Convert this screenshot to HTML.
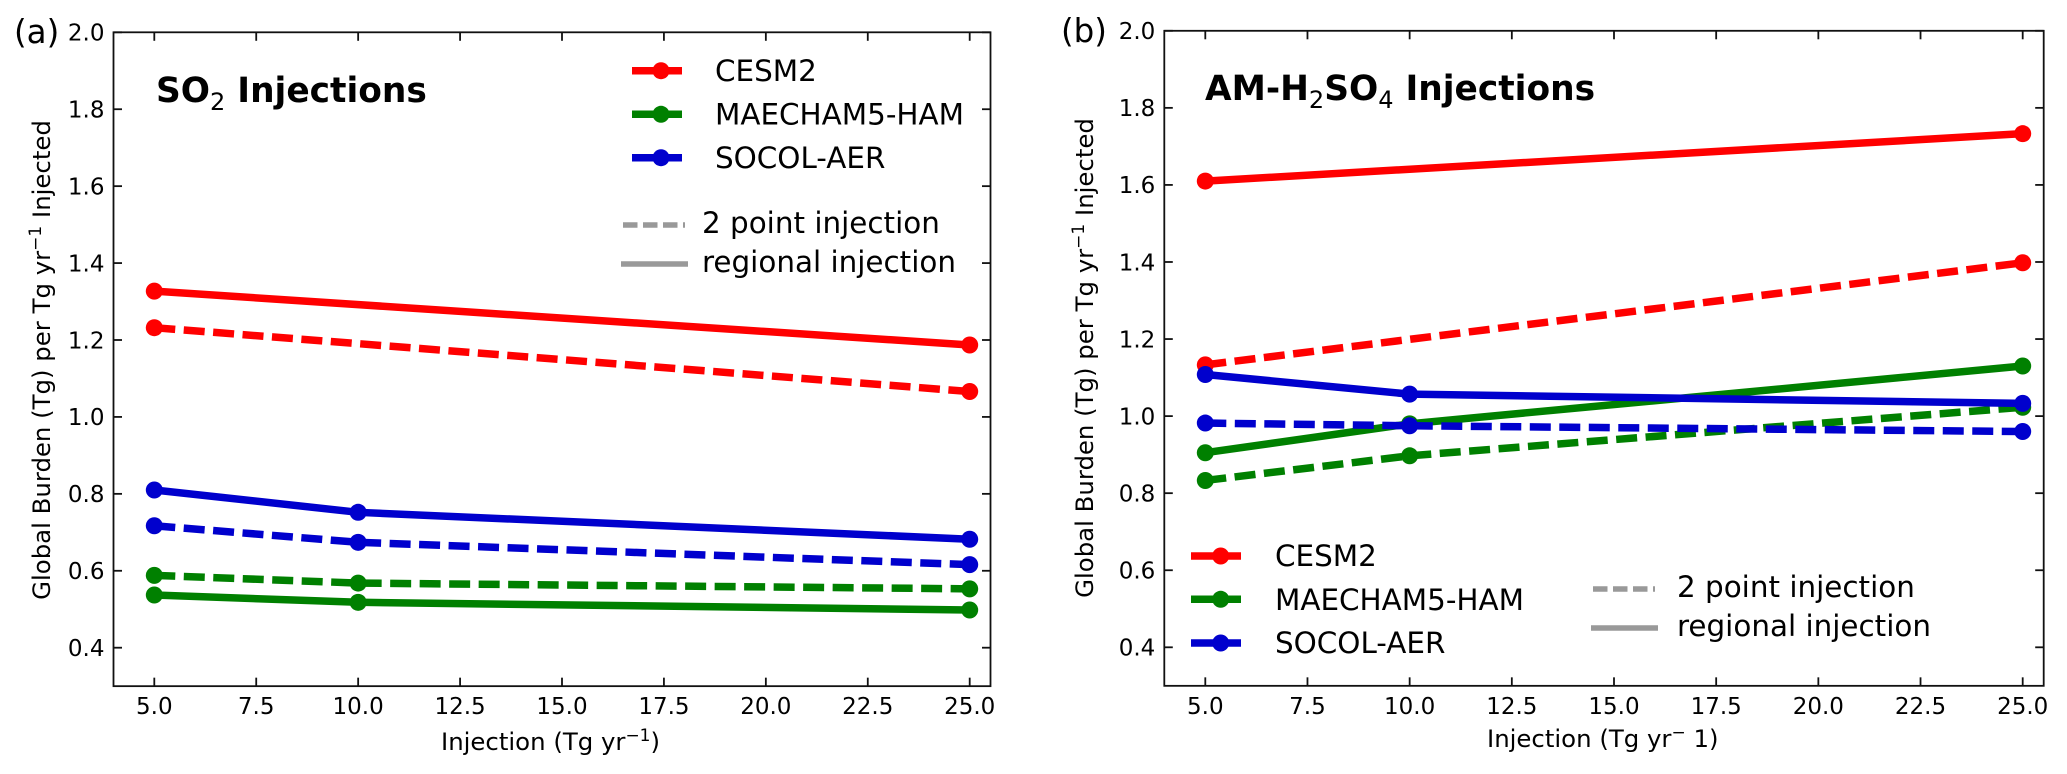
<!DOCTYPE html>
<html lang="en">
<head>
<meta charset="utf-8">
<title>Global burden per Tg injected</title>
<style>
html,body{margin:0;padding:0;background:#fff;width:2067px;height:774px;overflow:hidden}
svg{display:block}
text{font-family:"DejaVu Sans",sans-serif;fill:#000}
.tick{font-size:23px}
.axis-label{font-size:24.4px}
.legend{font-size:29.4px}
.legend2{font-size:29.4px}
.title{font-size:34.4px;font-weight:bold}
.panel{font-size:32.5px}
</style>
</head>
<body>
<svg id="fig" xmlns="http://www.w3.org/2000/svg" width="2067" height="774" viewBox="0 0 2067 774">
  <rect x="0" y="0" width="2067" height="774" fill="#fff"/>
  <g id="plots"></g>

  <text class="panel" x="14" y="43">(a)</text>
  <text class="panel" x="1061" y="42">(b)</text>

  <text class="title" x="156" y="102">SO<tspan font-size="24" font-weight="normal" dy="8">2</tspan><tspan dy="-8"> Injections</tspan></text>
  <text class="title" x="1205" y="100">AM-H<tspan font-size="24" font-weight="normal" dy="8">2</tspan><tspan dy="-8">SO</tspan><tspan font-size="24" font-weight="normal" dy="8">4</tspan><tspan dy="-8"> Injections</tspan></text>

  <text class="axis-label" transform="translate(50,360) rotate(-90)" text-anchor="middle">Global Burden (Tg) per Tg yr<tspan font-size="17" dy="-9">−1</tspan><tspan dy="9"> Injected</tspan></text>
  <text class="axis-label" transform="translate(1093,358) rotate(-90)" text-anchor="middle">Global Burden (Tg) per Tg yr<tspan font-size="17" dy="-9">−1</tspan><tspan dy="9"> Injected</tspan></text>
  <text class="axis-label" x="441" y="750">Injection (Tg yr<tspan font-size="17" dy="-9">−1</tspan><tspan dy="9">)</tspan></text>
  <text class="axis-label" x="1487" y="747">Injection (Tg yr<tspan font-size="17" dy="-9">−</tspan><tspan dy="9"> 1)</tspan></text>

  <g>
    <g><line x1="632" x2="682" y1="70.7" y2="70.7" stroke="#ff0000" stroke-width="7.5"/><circle cx="661" cy="70.7" r="8.5" fill="#ff0000"/><text class="legend" x="715" y="81">CESM2</text></g>
    <g><line x1="632" x2="682" y1="114.3" y2="114.3" stroke="#008000" stroke-width="7.5"/><circle cx="661" cy="114.3" r="8.5" fill="#008000"/><text class="legend" x="715" y="124.5">MAECHAM5-HAM</text></g>
    <g><line x1="632" x2="682" y1="157.7" y2="157.7" stroke="#0000cd" stroke-width="7.5"/><circle cx="661" cy="157.7" r="8.5" fill="#0000cd"/><text class="legend" x="715" y="168">SOCOL-AER</text></g>
  </g>
  <g>
    <g><line x1="623" x2="685" y1="225" y2="225" stroke="#999" stroke-width="5.5" stroke-dasharray="14.5 5.5"/><text class="legend2" x="702" y="233">2 point injection</text></g>
    <g><line x1="621" x2="688" y1="264" y2="264" stroke="#999" stroke-width="5.5"/><text class="legend2" x="702" y="272">regional injection</text></g>
  </g>

  <g>
    <g><line x1="1191" x2="1241" y1="556" y2="556" stroke="#ff0000" stroke-width="7.5"/><circle cx="1220.7" cy="556" r="8.5" fill="#ff0000"/><text class="legend" x="1275" y="566">CESM2</text></g>
    <g><line x1="1191" x2="1241" y1="599.3" y2="599.3" stroke="#008000" stroke-width="7.5"/><circle cx="1220.7" cy="599.3" r="8.5" fill="#008000"/><text class="legend" x="1275" y="610">MAECHAM5-HAM</text></g>
    <g><line x1="1191" x2="1241" y1="643" y2="643" stroke="#0000cd" stroke-width="7.5"/><circle cx="1220.7" cy="643" r="8.5" fill="#0000cd"/><text class="legend" x="1275" y="653">SOCOL-AER</text></g>
  </g>
  <g>
    <g><line x1="1593" x2="1655" y1="589" y2="589" stroke="#999" stroke-width="5.5" stroke-dasharray="14.5 5.5"/><text class="legend2" x="1677" y="597">2 point injection</text></g>
    <g><line x1="1591" x2="1658" y1="628" y2="628" stroke="#999" stroke-width="5.5"/><text class="legend2" x="1677" y="636">regional injection</text></g>
  </g>
</svg>
<script>
// Shared axis values
var xTicks = [5, 7.5, 10, 12.5, 15, 17.5, 20, 22.5, 25];
var yTicks = [0.4, 0.6, 0.8, 1.0, 1.2, 1.4, 1.6, 1.8, 2.0];
var xDomain = [4, 26];
var yDomain = [0.3, 2.0];

// Injection rates sampled by each model
var cesmX = [5, 25];
var otherX = [5, 10, 25];

// Panel (a): SO2 injections
var aCesmRegional = [1.327, 1.187];
var aCesmTwoPoint = [1.232, 1.066];
var aMaechamRegional = [0.537, 0.518, 0.498];
var aMaechamTwoPoint = [0.588, 0.568, 0.553];
var aSocolRegional = [0.810, 0.752, 0.682];
var aSocolTwoPoint = [0.717, 0.674, 0.616];

// Panel (b): AM-H2SO4 injections
var bCesmRegional = [1.610, 1.733];
var bCesmTwoPoint = [1.133, 1.398];
var bMaechamRegional = [0.905, 0.980, 1.130];
var bMaechamTwoPoint = [0.833, 0.897, 1.023];
var bSocolRegional = [1.108, 1.057, 1.033];
var bSocolTwoPoint = [0.982, 0.975, 0.960];

var SVGNS = 'http://www.w3.org/2000/svg';
var plots = document.getElementById('plots');

function make(tag, parent) {
  var el = document.createElementNS(SVGNS, tag);
  parent.appendChild(el);
  return el;
}

function drawPanel(box, id, seriesList) {
  // Axis scales: calibrated from tick 5 and 25, tick 0.4 and 2.0
  function sx(v) { return box.x5 + (v - 5) * (box.x25 - box.x5) / 20; }
  function sy(v) { return box.y04 + (v - 0.4) * (box.y20 - box.y04) / 1.6; }

  var group = make('g', plots);
  
  

  seriesList.forEach(function (s) {
    var pts = s.xs.map(function (x, i) { return sx(x).toFixed(2) + ',' + sy(s.ys[i]).toFixed(2); }).join(' ');
    var line = make('polyline', group);
    
    
    line.setAttribute('points', pts);
    line.setAttribute('fill', 'none');
    line.setAttribute('stroke', s.color);
    line.setAttribute('stroke-width', '7.5');
    if (s.dashed) { line.setAttribute('stroke-dasharray', '21 8.5'); }
    s.xs.forEach(function (x, i) {
      var dot = make('circle', group);
      
      
      dot.setAttribute('cx', sx(x));
      dot.setAttribute('cy', sy(s.ys[i]));
      dot.setAttribute('r', '8.5');
      dot.setAttribute('fill', s.color);
    });
  });

  var frame = make('rect', group);
  
  
  frame.setAttribute('x', box.left);
  frame.setAttribute('y', sy(yDomain[1]));
  frame.setAttribute('width', box.right - box.left);
  frame.setAttribute('height', sy(yDomain[0]) - sy(yDomain[1]));
  frame.setAttribute('fill', 'none');
  frame.setAttribute('stroke', '#111');
  frame.setAttribute('stroke-width', '1.8');

  var top = sy(yDomain[1]);
  var bottom = sy(yDomain[0]);

  xTicks.forEach(function (t) {
    var p = sx(t);
    var upper = make('line', group);
    
    
    upper.setAttribute('x1', p);
    upper.setAttribute('x2', p);
    upper.setAttribute('y1', top);
    upper.setAttribute('y2', top + 8.5);
    upper.setAttribute('stroke', '#111');
    upper.setAttribute('stroke-width', '1.8');
    var lower = make('line', group);
    
    
    lower.setAttribute('x1', p);
    lower.setAttribute('x2', p);
    lower.setAttribute('y1', bottom);
    lower.setAttribute('y2', bottom - 8.5);
    lower.setAttribute('stroke', '#111');
    lower.setAttribute('stroke-width', '1.8');
    var label = make('text', group);
    
    
    label.setAttribute('class', 'tick');
    label.setAttribute('x', p);
    label.setAttribute('y', 714);
    label.setAttribute('text-anchor', 'middle');
    label.textContent = t.toFixed(1);
  });

  yTicks.forEach(function (t) {
    var p = sy(t);
    var leftTick = make('line', group);
    
    
    leftTick.setAttribute('x1', box.left);
    leftTick.setAttribute('x2', box.left + 8.5);
    leftTick.setAttribute('y1', p);
    leftTick.setAttribute('y2', p);
    leftTick.setAttribute('stroke', '#111');
    leftTick.setAttribute('stroke-width', '1.8');
    var rightTick = make('line', group);
    
    
    rightTick.setAttribute('x1', box.right);
    rightTick.setAttribute('x2', box.right - 8.5);
    rightTick.setAttribute('y1', p);
    rightTick.setAttribute('y2', p);
    rightTick.setAttribute('stroke', '#111');
    rightTick.setAttribute('stroke-width', '1.8');
    var label = make('text', group);
    
    
    label.setAttribute('class', 'tick');
    label.setAttribute('x', box.left - 9);
    label.setAttribute('y', p + 8.3);
    label.setAttribute('text-anchor', 'end');
    label.textContent = t.toFixed(1);
  });
}

var RED = '#ff0000', GREEN = '#008000', BLUE = '#0000cd';

drawPanel({left: 113.5, right: 990.5, x5: 154.3, x25: 969.7, y04: 647.7, y20: 32.3}, 'a', [
  {name: 'cesm2-regional', color: RED, xs: cesmX, ys: aCesmRegional, dashed: false},
  {name: 'cesm2-2-point', color: RED, xs: cesmX, ys: aCesmTwoPoint, dashed: true},
  {name: 'maecham5-ham-regional', color: GREEN, xs: otherX, ys: aMaechamRegional, dashed: false},
  {name: 'maecham5-ham-2-point', color: GREEN, xs: otherX, ys: aMaechamTwoPoint, dashed: true},
  {name: 'socol-aer-regional', color: BLUE, xs: otherX, ys: aSocolRegional, dashed: false},
  {name: 'socol-aer-2-point', color: BLUE, xs: otherX, ys: aSocolTwoPoint, dashed: true}
]);

drawPanel({left: 1164.3, right: 2043.7, x5: 1205.3, x25: 2022.7, y04: 647.3, y20: 30.8}, 'b', [
  {name: 'cesm2-regional', color: RED, xs: cesmX, ys: bCesmRegional, dashed: false},
  {name: 'cesm2-2-point', color: RED, xs: cesmX, ys: bCesmTwoPoint, dashed: true},
  {name: 'maecham5-ham-regional', color: GREEN, xs: otherX, ys: bMaechamRegional, dashed: false},
  {name: 'maecham5-ham-2-point', color: GREEN, xs: otherX, ys: bMaechamTwoPoint, dashed: true},
  {name: 'socol-aer-regional', color: BLUE, xs: otherX, ys: bSocolRegional, dashed: false},
  {name: 'socol-aer-2-point', color: BLUE, xs: otherX, ys: bSocolTwoPoint, dashed: true}
]);
</script>
</body>
</html>
